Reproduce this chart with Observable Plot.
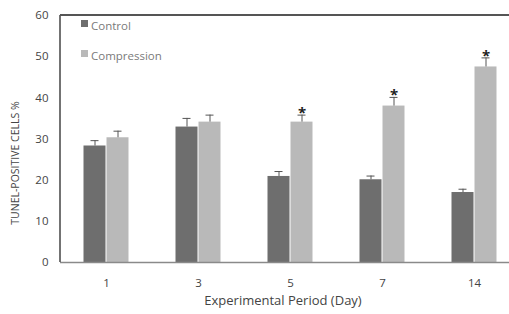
<!DOCTYPE html>
<html>
<head>
<meta charset="utf-8">
<script src="https://cdn.jsdelivr.net/npm/d3@7"></script>
<script src="https://cdn.jsdelivr.net/npm/@observablehq/plot@0.6"></script>
<style>
  html, body { margin: 0; padding: 0; background: #fff; overflow: hidden; width: 509px; height: 314px; }
  #wrap { position: relative; width: 509px; height: 314px; overflow: hidden; font-family: "Open Sans", sans-serif; }
  #chart svg { max-width: none !important; width: 520px !important; height: 314px !important; display: block; }
  #legend { position: absolute; left: 81px; top: 18px; font-size: 11.5px; color: #7a7a7a; }
  #legend div { display: flex; align-items: center; height: 14px; margin-bottom: 16px; }
  #legend span.sw { display: inline-block; width: 7px; height: 7px; margin-right: 3px; margin-top: -4px; }
  #ylab { position: absolute; left: 15px; top: 163px; transform: translate(-50%, -50%) rotate(-90deg); white-space: nowrap; font-size: 10.5px; color: #444; }
  #xlab { position: absolute; left: 283px; top: 300px; transform: translate(-50%, -50%); white-space: nowrap; font-size: 13px; color: #444; }
</style>
</head>
<body>
<div id="wrap">
  <div id="chart"></div>
  <div id="legend"></div>
  <div id="ylab">TUNEL-POSITIVE CELLS %</div>
  <div id="xlab">Experimental Period (Day)</div>
</div>
<script>
const days = ["1", "3", "5", "7", "14"];
const groups = ["Control", "Compression"];
const controlValues = [28.3, 32.9, 20.9, 20.1, 17.0];
const controlErrors = [1.3, 2.1, 1.2, 0.9, 0.8];
const compressionValues = [30.3, 34.1, 34.1, 38.0, 47.5];
const compressionErrors = [1.6, 1.7, 1.7, 2.1, 2.2];
const significant = [false, false, true, true, true];
const colors = ["#6e6e6e", "#b9b9b9"];
const yTicks = [0, 10, 20, 30, 40, 50, 60];

const control = days.map((d, i) => ({day: d, value: controlValues[i], top: controlValues[i] + controlErrors[i]}));
const compression = days.map((d, i) => ({day: d, value: compressionValues[i], top: compressionValues[i] + compressionErrors[i], sig: significant[i]}));

const W = 520;
const ML = 60;
const step = (W - ML) / days.length;
const half = step * 0.5 / 2; // half of the band width

const chart = Plot.plot({
  width: W,
  height: 314,
  marginLeft: ML,
  marginRight: 0,
  marginTop: 15,
  marginBottom: 52,
  style: {fontFamily: "Open Sans, sans-serif", fontSize: "11.5px", color: "#444", background: "white"},
  x: {domain: days, paddingInner: 0.5, paddingOuter: 0.25, label: null, tickSize: 0, tickPadding: 16},
  y: {domain: [0, 60], ticks: yTicks, label: null, tickSize: 0, tickPadding: 12},
  marks: [
    Plot.barY(control, {x: "day", y: "value", fill: colors[0], insetRight: half + 0.5, insetLeft: 0.5}),
    Plot.barY(compression, {x: "day", y: "value", fill: colors[1], insetLeft: half + 0.5, insetRight: 0.5}),
    Plot.ruleX(control, {x: "day", y1: "value", y2: "top", dx: -half / 2, stroke: "#555", strokeWidth: 1}),
    Plot.ruleX(compression, {x: "day", y1: "value", y2: "top", dx: half / 2, stroke: "#555", strokeWidth: 1}),
    Plot.tickY(control, {x: "day", y: "top", stroke: "#555", strokeWidth: 1, insetLeft: half / 2 - 4, insetRight: half * 1.5 - 4}),
    Plot.tickY(compression, {x: "day", y: "top", stroke: "#555", strokeWidth: 1, insetLeft: half * 1.5 - 4, insetRight: half / 2 - 4}),
    Plot.text(compression.filter(d => d.sig), {x: "day", y: "top", dx: half / 2, text: () => "*", dy: -2, fontSize: 15, fontWeight: "bold", fill: "#222"}),
    Plot.ruleY([0], {stroke: "#8a8a8a", strokeWidth: 1.5})
  ]
});
document.getElementById("chart").appendChild(chart);

// frame (left and top border) drawn from the plot's own scale
const sy = chart.scale("y");
const svg = d3.select(chart);
const yTop = sy.apply(60), yBot = sy.apply(0);
svg.append("line").attr("x1", ML).attr("x2", ML).attr("y1", yTop).attr("y2", yBot).attr("stroke", "#444").attr("stroke-width", 1.5);
svg.append("line").attr("x1", ML).attr("x2", W).attr("y1", yTop).attr("y2", yTop).attr("stroke", "#555").attr("stroke-width", 2);

const legend = document.getElementById("legend");
groups.forEach((g, i) => {
  const row = document.createElement("div");
  row.innerHTML = `<span class="sw" style="background:${colors[i]}"></span>${g}`;
  legend.appendChild(row);
});
</script>
</body>
</html>
